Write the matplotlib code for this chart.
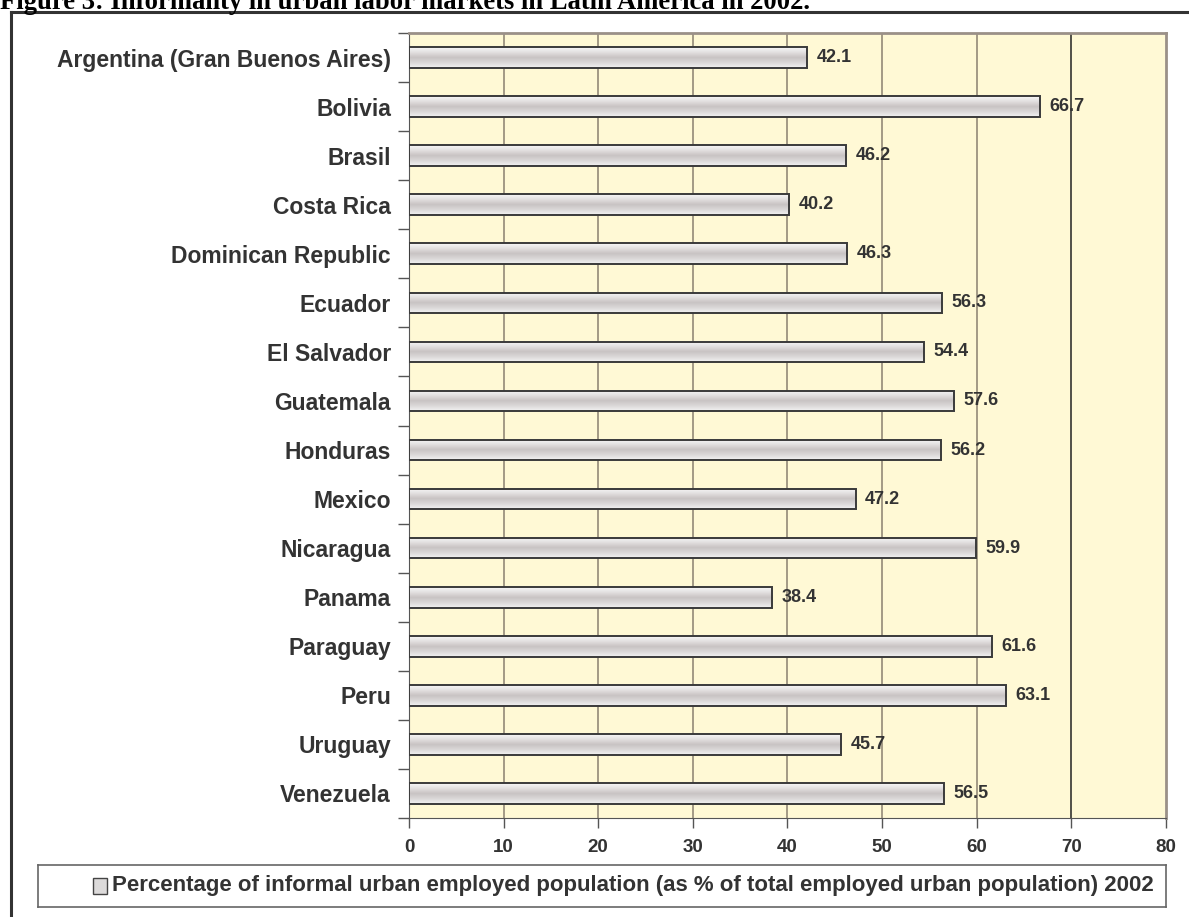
import matplotlib
matplotlib.use("Agg")
import matplotlib.pyplot as plt
import numpy as np
from matplotlib.colors import LinearSegmentedColormap
from matplotlib.patches import Rectangle

# datos
paises = ["Argentina (Gran Buenos Aires)", "Bolivia", "Brasil", "Costa Rica",
          "Dominican Republic", "Ecuador", "El Salvador", "Guatemala", "Honduras",
          "Mexico", "Nicaragua", "Panama", "Paraguay", "Peru", "Uruguay", "Venezuela"]
valores = [42.1, 66.7, 46.2, 40.2, 46.3, 56.3, 54.4, 57.6, 56.2, 47.2,
           59.9, 38.4, 61.6, 63.1, 45.7, 56.5]
xticks = [0, 10, 20, 30, 40, 50, 60, 70, 80]
serie = "Percentage of informal urban employed population (as % of total employed urban population) 2002"
titulo = "Figure 3: Informality in urban labor markets in Latin America in 2002."

cor_txt = "#333333"
fig = plt.figure(figsize=(11.89, 9.17), dpi=100)

# moldura externa
fig.add_artist(plt.Line2D([11/1189, 1.0], [1-12/917, 1-12/917], color="#333333", lw=2.2, transform=fig.transFigure))
fig.add_artist(plt.Line2D([11/1189, 11/1189], [0, 1-12/917], color="#333333", lw=2.2, transform=fig.transFigure))

# titulo (cortado no topo, como no original)
fig.text(0.0, 1-9/917, titulo, family="Liberation Serif", fontweight="bold",
         fontsize=19.2, va="baseline", ha="left", color="black")

ax = fig.add_axes([409/1189, 1-818/917, (1166-409)/1189, (818-33)/917])
ax.set_facecolor("#FFF9D5")
n = len(paises)

for xv in xticks[1:-1]:
    ax.axvline(xv, color="#222222" if xv == 70 else "#8a8070", lw=1.1, zorder=1)

cmap = LinearSegmentedColormap.from_list("cil", ["#f8f8f8", "#e2dfdf", "#c8c3c3", "#dbd8d8", "#f2f2f2"])
grad = np.linspace(0, 1, 64).reshape(-1, 1)
alt = 0.42
y = np.arange(n)
barras = ax.barh(y, valores, height=alt, facecolor="none", edgecolor="#3a3a3a", lw=1.4, zorder=4)
for b, v in zip(barras, valores):
    x0, y0 = b.get_x(), b.get_y()
    im = ax.imshow(grad, cmap=cmap, aspect="auto", extent=[x0, x0 + v, y0 + alt, y0], zorder=3)
    im.set_clip_path(Rectangle((x0, y0), v, alt, transform=ax.transData))
    ax.text(v + 1.0, b.get_y() + alt/2, f"{v:.1f}", va="center", ha="left",
            fontsize=13, fontweight="bold", color=cor_txt, family="Liberation Sans", zorder=5)
ax.set_xlim(0, 80)
ax.set_ylim(n - 0.5, -0.5)

ax.set_yticks(y)
ax.set_yticklabels(paises, fontsize=16.5, fontweight="bold", color=cor_txt, family="Liberation Sans")
ax.set_yticks(np.arange(n + 1) - 0.5, minor=True)
ax.tick_params(axis="y", which="major", length=0, pad=13)
ax.tick_params(axis="y", which="minor", length=8, color="#555555", width=1)
ax.set_xticks(xticks)
ax.set_xticklabels([str(t) for t in xticks], fontsize=13.5, fontweight="bold", color=cor_txt, family="Liberation Sans")
ax.tick_params(axis="x", length=7, color="#555555", width=1, pad=8)

for lado in ["top", "right"]:
    ax.spines[lado].set_color("#9a9088")
    ax.spines[lado].set_linewidth(2)
ax.spines["left"].set_color("#555555")
ax.spines["bottom"].set_color("#555555")

# legenda
lax = fig.add_axes([38/1189, 1-907/917, (1166-38)/1189, 42/917])
lax.set_xticks([]); lax.set_yticks([])
for s in lax.spines.values():
    s.set_color("#666666"); s.set_linewidth(1.2)
lax.set_xlim(0, 1); lax.set_ylim(0, 1)
lax.add_patch(Rectangle((55/1128, 0.32), 14/1128, 0.36, facecolor="#dcdada", edgecolor="#444444", lw=1))
lax.text(74/1128, 0.5, serie, va="center", ha="left", fontsize=16, fontweight="bold",
         color=cor_txt, family="Liberation Sans")

fig.savefig("out.png", dpi=100)
